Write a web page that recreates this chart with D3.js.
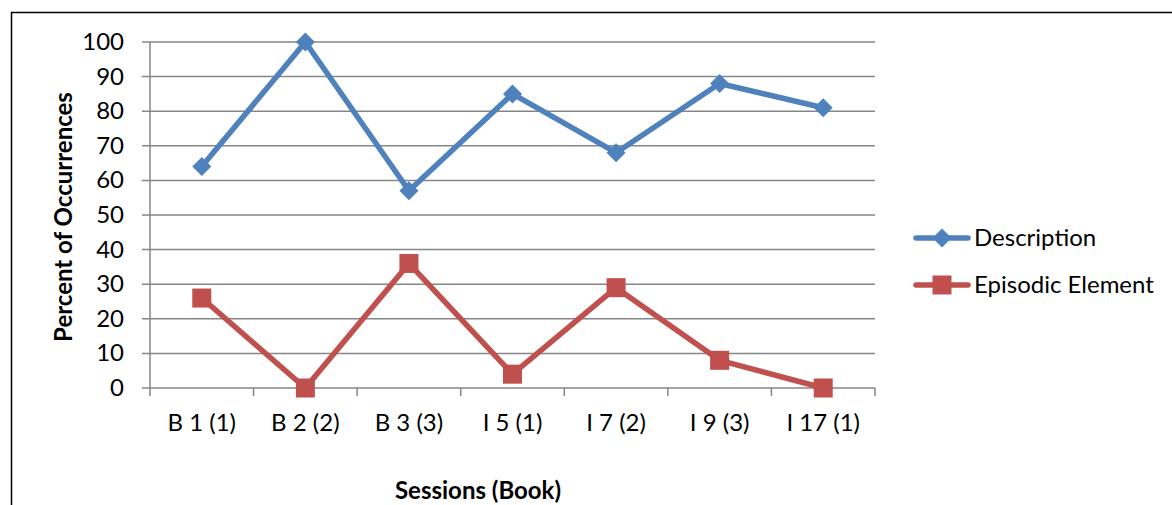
<!DOCTYPE html>
<html>
<head>
<meta charset="utf-8">
<script src="https://cdn.jsdelivr.net/npm/d3@7"></script>
<style>
  html, body { margin: 0; padding: 0; background: #fff; }
  svg { display: block; font-family: Lato, "Open Sans", sans-serif; }
</style>
</head>
<body>
<svg id="chart" width="1172" height="505"></svg>
<script>
// Sessions and the share of each coding category per session
const sessions = ["B 1 (1)", "B 2 (2)", "B 3 (3)", "I 5 (1)", "I 7 (2)", "I 9 (3)", "I 17 (1)"];
const description = [64, 100, 57, 85, 68, 88, 81];
const episodic = [26, 0, 36, 4, 29, 8, 0];
const yTicks = [0, 10, 20, 30, 40, 50, 60, 70, 80, 90, 100];

const series = [
  { name: "Description", values: description, color: "#4F81BD", marker: "diamond" },
  { name: "Episodic Element", values: episodic, color: "#C0504D", marker: "square" }
];

const svg = d3.select("#chart");
const plot = { left: 150, right: 875, top: 42, bottom: 388 };
const gridColor = "#868686";
const fontSize = 24;
const textShift = -1.5; // small optical correction for the central baseline

// outer chart frame (extends past the viewport on the right and bottom)
svg.append("rect")
  .attr("x", 11.5).attr("y", 12.5)
  .attr("width", 1300).attr("height", 600)
  .attr("fill", "none").attr("stroke", "#000").attr("stroke-width", 1.5);

const x = d3.scaleBand().domain(sessions).range([plot.left, plot.right]);
const y = d3.scaleLinear().domain([0, 100]).range([plot.bottom, plot.top]);

// horizontal gridlines with short outside ticks
svg.append("g").selectAll("line").data(yTicks).join("line")
  .attr("x1", plot.left - 8).attr("x2", plot.right)
  .attr("y1", d => y(d)).attr("y2", d => y(d))
  .attr("stroke", gridColor).attr("stroke-width", 1.5);

// y tick labels
svg.append("g").selectAll("text").data(yTicks).join("text")
  .attr("x", plot.left - 26).attr("y", d => y(d) + textShift)
  .attr("text-anchor", "end").attr("dominant-baseline", "central")
  .attr("font-size", fontSize).attr("fill", "#000")
  .text(d => d);

// vertical axis line
svg.append("line")
  .attr("x1", plot.left).attr("x2", plot.left)
  .attr("y1", plot.top).attr("y2", plot.bottom + 8)
  .attr("stroke", gridColor).attr("stroke-width", 1.5);

// category boundary ticks on the x axis
const bounds = sessions.map(s => x(s)).concat([plot.right]);
svg.append("g").selectAll("line").data(bounds.slice(1)).join("line")
  .attr("x1", d => d).attr("x2", d => d)
  .attr("y1", plot.bottom).attr("y2", plot.bottom + 8)
  .attr("stroke", gridColor).attr("stroke-width", 1.5);

// category labels
svg.append("g").selectAll("text").data(sessions).join("text")
  .attr("x", d => x(d) + x.bandwidth() / 2).attr("y", 423 + textShift)
  .attr("text-anchor", "middle").attr("dominant-baseline", "central")
  .attr("font-size", fontSize).attr("fill", "#000")
  .text(d => d);

// axis titles
svg.append("text")
  .attr("transform", `translate(62, 217) rotate(-90)`)
  .attr("text-anchor", "middle").attr("dominant-baseline", "central")
  .attr("font-size", fontSize).attr("font-weight", "bold")
  .text("Percent of Occurrences");

svg.append("text")
  .attr("x", 478).attr("y", 491 + textShift)
  .attr("text-anchor", "middle").attr("dominant-baseline", "central")
  .attr("font-size", fontSize).attr("font-weight", "bold")
  .text("Sessions (Book)");

const cx = d => x(d) + x.bandwidth() / 2;
const line = d3.line().x((v, i) => cx(sessions[i])).y(v => y(v));

function drawMarker(g, type, color, px, py) {
  if (type === "diamond") {
    const r = 9.5;
    g.append("path")
      .attr("d", `M${px},${py - r}L${px + r},${py}L${px},${py + r}L${px - r},${py}Z`)
      .attr("fill", color);
  } else {
    const s = 19;
    g.append("rect")
      .attr("x", px - s / 2).attr("y", py - s / 2)
      .attr("width", s).attr("height", s)
      .attr("fill", color);
  }
}

series.forEach(sr => {
  const g = svg.append("g");
  g.append("path")
    .attr("d", line(sr.values))
    .attr("fill", "none").attr("stroke", sr.color)
    .attr("stroke-width", 5.5).attr("stroke-linejoin", "round").attr("stroke-linecap", "round");
  sr.values.forEach((v, i) => drawMarker(g, sr.marker, sr.color, cx(sessions[i]), y(v)));
});

// legend
const legendY = [238, 285];
series.forEach((sr, i) => {
  const g = svg.append("g");
  const ly = legendY[i];
  g.append("line")
    .attr("x1", 916).attr("x2", 968).attr("y1", ly).attr("y2", ly)
    .attr("stroke", sr.color).attr("stroke-width", 5.5).attr("stroke-linecap", "round");
  drawMarker(g, sr.marker, sr.color, 942, ly);
  g.append("text")
    .attr("x", 974).attr("y", ly + textShift)
    .attr("dominant-baseline", "central")
    .attr("font-size", fontSize).attr("fill", "#000")
    .text(sr.name);
});
</script>
</body>
</html>
